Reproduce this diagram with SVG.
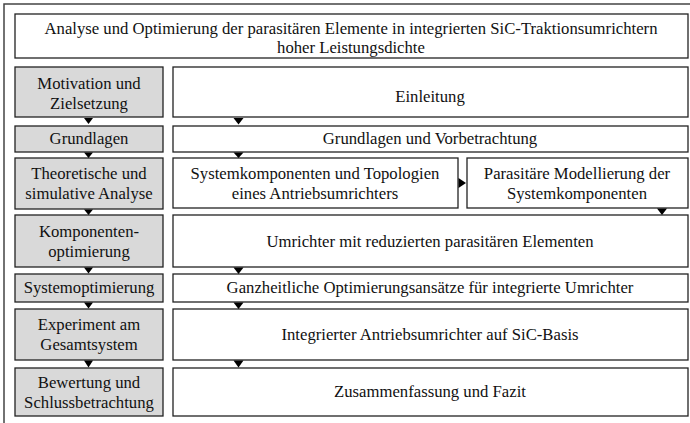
<svg xmlns="http://www.w3.org/2000/svg" width="690" height="423" viewBox="0 0 690 423">
<style>
.frame{fill:#fff;stroke:#444;stroke-width:1.5}
.box{fill:#fff;stroke:#222;stroke-width:1.3}
.gbox{fill:#d9d9d9;stroke:#222;stroke-width:1.3}
text{font-family:"Liberation Serif","Times New Roman",serif;font-size:16.7px;fill:#111;text-anchor:middle}
.arr{fill:#000}
</style>
<rect class="frame" x="4" y="4" width="700" height="440"/>
<g id="title">
<rect class="box" x="15" y="14" width="673" height="44"/>
<text x="351" y="34">Analyse und Optimierung der parasitären Elemente in integrierten SiC-Traktionsumrichtern</text>
<text x="351" y="52.5">hoher Leistungsdichte</text>
</g>
<g id="l1"><rect class="gbox" x="15" y="67" width="148" height="50"/><text x="89" y="89">Motivation und</text><text x="89" y="109">Zielsetzung</text></g>
<g id="l2"><rect class="gbox" x="15" y="126" width="148" height="26"/><text x="89" y="144">Grundlagen</text></g>
<g id="l3"><rect class="gbox" x="15" y="158" width="148" height="51"/><text x="89" y="179">Theoretische und</text><text x="89" y="199">simulative Analyse</text></g>
<g id="l4"><rect class="gbox" x="15" y="215" width="148" height="52"/><text x="89" y="237">Komponenten-</text><text x="89" y="257">optimierung</text></g>
<g id="l5"><rect class="gbox" x="15" y="274" width="148" height="28"/><text x="89" y="293">Systemoptimierung</text></g>
<g id="l6"><rect class="gbox" x="15" y="309" width="148" height="51"/><text x="89" y="330">Experiment am</text><text x="89" y="350">Gesamtsystem</text></g>
<g id="l7"><rect class="gbox" x="15" y="368" width="148" height="48"/><text x="89" y="388">Bewertung und</text><text x="89" y="408">Schlussbetrachtung</text></g>
<g id="r1"><rect class="box" x="173" y="67" width="515" height="50"/><text x="430" y="102">Einleitung</text></g>
<g id="r2"><rect class="box" x="173" y="126" width="515" height="26"/><text x="430" y="144">Grundlagen und Vorbetrachtung</text></g>
<g id="r3a"><rect class="box" x="173" y="158" width="285" height="50"/><text x="315" y="179">Systemkomponenten und Topologien</text><text x="315" y="199">eines Antriebsumrichters</text></g>
<g id="r3b"><rect class="box" x="467" y="158" width="221" height="50"/><text x="577" y="179">Parasitäre Modellierung der</text><text x="577" y="199">Systemkomponenten</text></g>
<g id="r4"><rect class="box" x="173" y="215" width="515" height="52"/><text x="430" y="247">Umrichter mit reduzierten parasitären Elementen</text></g>
<g id="r5"><rect class="box" x="173" y="274" width="515" height="28"/><text x="430" y="293">Ganzheitliche Optimierungsansätze für integrierte Umrichter</text></g>
<g id="r6"><rect class="box" x="173" y="309" width="515" height="51"/><text x="430" y="340">Integrierter Antriebsumrichter auf SiC-Basis</text></g>
<g id="r7"><rect class="box" x="173" y="368" width="515" height="48"/><text x="430" y="397">Zusammenfassung und Fazit</text></g>
<g id="connectors" class="arr">
<path d="M84,118 L93,118 L88.5,124 Z"/>
<path d="M84,152.5 L93,152.5 L88.5,158 Z"/>
<path d="M84,209.5 L93,209.5 L88.5,215 Z"/>
<path d="M84,267.5 L93,267.5 L88.5,273.5 Z"/>
<path d="M84,302.5 L93,302.5 L88.5,308.5 Z"/>
<path d="M84,360.5 L93,360.5 L88.5,367.5 Z"/>
<path d="M233.5,118 L243.5,118 L238.5,124.5 Z"/>
<path d="M233.5,152.5 L243.5,152.5 L238.5,158 Z"/>
<path d="M458.5,178 L458.5,188 L466,183 Z"/>
<path d="M657,208.5 L667,208.5 L662,215 Z"/>
<path d="M233.5,267.5 L243.5,267.5 L238.5,274 Z"/>
<path d="M233.5,302.5 L243.5,302.5 L238.5,309 Z"/>
<path d="M233.5,360.5 L243.5,360.5 L238.5,367.5 Z"/>
</g>
</svg>
